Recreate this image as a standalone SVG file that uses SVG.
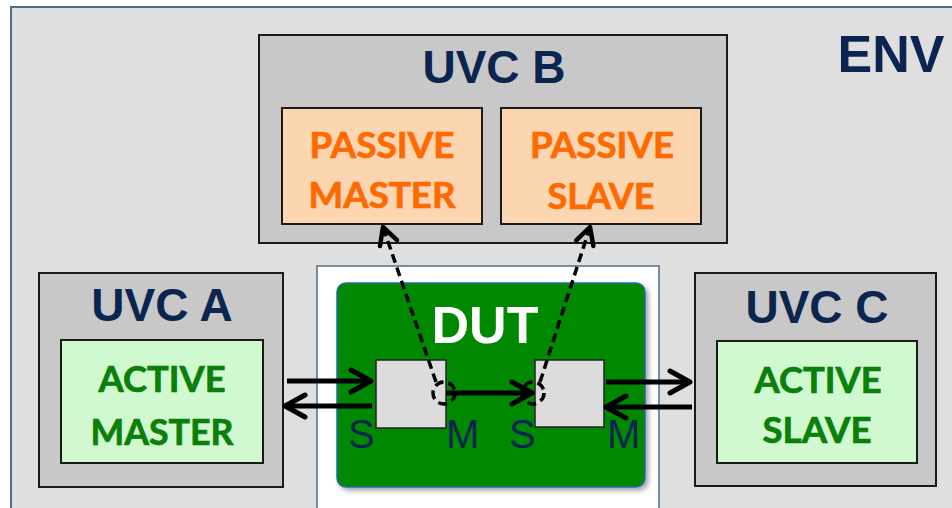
<svg xmlns="http://www.w3.org/2000/svg" width="952" height="508" viewBox="0 0 952 508">
<style>
.uvc{fill:#c8c8c8;stroke:#1a1a1a;stroke-width:2}
.pas{fill:#fcd5b1;stroke:#1a1a1a;stroke-width:2}
.act{fill:#d0f9d0;stroke:#1a1a1a;stroke-width:2}
.title{font-family:"Liberation Sans",Arial,sans-serif;font-weight:bold;fill:#0b2550;text-anchor:middle}
.inner{font-family:Lato,"Liberation Sans",sans-serif;font-weight:bold;font-size:36px;text-anchor:middle;stroke-width:0.7}
.orange{fill:#ff6a00;stroke:#ff6a00}
.green{fill:#0a800a;stroke:#0a800a}
.port{font-family:"Liberation Sans",Arial,sans-serif;font-size:40px;fill:#0b2550}
.arr{stroke:#000;stroke-width:5;fill:none}
.dash{stroke:#000;stroke-width:3.5;fill:none;stroke-dasharray:9 5}
</style>
<defs>
<marker id="chev" markerUnits="userSpaceOnUse" viewBox="0 0 26 28" refX="23" refY="14" markerWidth="26" markerHeight="28" orient="auto">
<path d="M3,3 L23,14 L3,25" fill="none" stroke="#000" stroke-width="5" stroke-linecap="round" stroke-linejoin="round"/>
</marker>
<marker id="chevs" markerUnits="userSpaceOnUse" viewBox="0 0 24 24" refX="21" refY="12" markerWidth="24" markerHeight="24" orient="auto">
<path d="M4,3 L21,12 L4,21" fill="none" stroke="#000" stroke-width="4.5" stroke-linecap="round" stroke-linejoin="round"/>
</marker>
<filter id="sh" x="-10%" y="-10%" width="130%" height="130%">
<feDropShadow dx="3" dy="3" stdDeviation="2.5" flood-color="#000" flood-opacity="0.35"/>
</filter>
</defs>

<g id="env">
<rect x="11" y="7" width="960" height="520" fill="#dfdfdf" stroke="#4d6d88" stroke-width="2"/>
<text class="title" x="891" y="72" font-size="52">ENV</text>
</g>

<g id="uvc-b">
<rect class="uvc" x="259" y="35" width="468" height="208"/>
<text class="title" x="494" y="83" font-size="46">UVC B</text>
</g>
<g id="passive-master">
<rect class="pas" x="282" y="108" width="200" height="116"/>
<text class="inner orange" x="382" y="158" textLength="145" lengthAdjust="spacingAndGlyphs">PASSIVE</text>
<text class="inner orange" x="382" y="208" textLength="147" lengthAdjust="spacingAndGlyphs">MASTER</text>
</g>
<g id="passive-slave">
<rect class="pas" x="501" y="108" width="200" height="116"/>
<text class="inner orange" x="602" y="158" textLength="144" lengthAdjust="spacingAndGlyphs">PASSIVE</text>
<text class="inner orange" x="601" y="209" textLength="107" lengthAdjust="spacingAndGlyphs">SLAVE</text>
</g>

<g id="uvc-a">
<rect class="uvc" x="39" y="273" width="244" height="214"/>
<text class="title" x="162" y="321" font-size="46">UVC A</text>
</g>
<g id="active-master">
<rect class="act" x="61" y="340" width="202" height="123"/>
<text class="inner green" x="162" y="392" textLength="127" lengthAdjust="spacingAndGlyphs">ACTIVE</text>
<text class="inner green" x="162" y="445" textLength="143" lengthAdjust="spacingAndGlyphs">MASTER</text>
</g>

<g id="uvc-c">
<rect class="uvc" x="695" y="273" width="241" height="213"/>
<text class="title" x="817" y="323" font-size="46">UVC C</text>
</g>
<g id="active-slave">
<rect class="act" x="717" y="341" width="200" height="122"/>
<text class="inner green" x="818" y="393" textLength="127" lengthAdjust="spacingAndGlyphs">ACTIVE</text>
<text class="inner green" x="817" y="443" textLength="109" lengthAdjust="spacingAndGlyphs">SLAVE</text>
</g>

<g id="dut-container">
<rect x="317" y="266" width="342" height="260" fill="#ffffff" stroke="#4d6d88" stroke-width="1.5"/>
</g>
<g id="dut">
<rect x="337" y="283" width="308" height="204" rx="9" fill="#008800" stroke="#2a6aa8" stroke-width="1.5" filter="url(#sh)"/>
<text x="485" y="343" font-family="Liberation Sans,Arial,sans-serif" font-weight="bold" font-size="52" fill="#ffffff" text-anchor="middle">DUT</text>
</g>
<g id="port-left">
<rect x="376" y="360" width="70" height="68" fill="#dcdcdc" stroke="#222" stroke-width="1.5"/>
<text class="port" x="348" y="448">S</text>
<text class="port" x="446" y="448">M</text>
</g>
<g id="port-right">
<rect x="535" y="360" width="69" height="67" fill="#dcdcdc" stroke="#222" stroke-width="1.5"/>
<text class="port" x="509" y="448">S</text>
<text class="port" x="607" y="448">M</text>
</g>

<g id="connectors">
<line class="arr" x1="287" y1="381" x2="371" y2="381" marker-end="url(#chev)"/>
<line class="arr" x1="372" y1="406" x2="285" y2="406" marker-end="url(#chev)"/>
<line class="arr" x1="446" y1="393" x2="532" y2="393" marker-end="url(#chev)"/>
<line class="arr" x1="606" y1="382" x2="690" y2="382" marker-end="url(#chev)"/>
<line class="arr" x1="692" y1="407" x2="606" y2="407" marker-end="url(#chev)"/>
<circle class="dash" cx="444" cy="393" r="11" stroke-width="2.8" stroke-dasharray="6 4"/>
<circle class="dash" cx="533" cy="393" r="11" stroke-width="2.8" stroke-dasharray="6 4"/>
<line class="dash" x1="436" y1="382" x2="383" y2="227" marker-end="url(#chevs)"/>
<line class="dash" x1="540" y1="382" x2="590" y2="227" marker-end="url(#chevs)"/>
</g>
</svg>
